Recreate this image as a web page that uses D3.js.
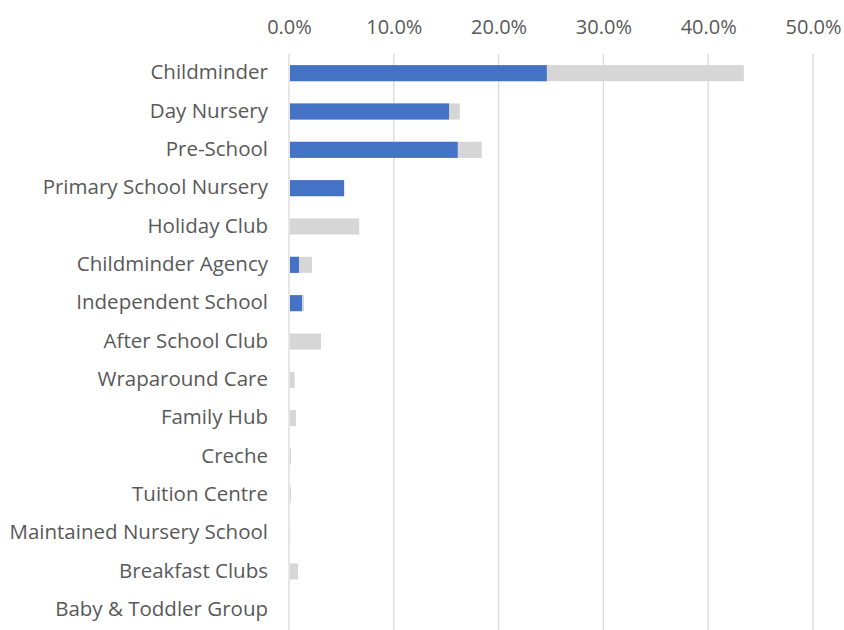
<!DOCTYPE html>
<html>
<head>
<meta charset="utf-8">
<script src="https://cdn.jsdelivr.net/npm/d3@7"></script>
<style>
  body { margin: 0; background: #fff; }
  svg text { font-family: "Open Sans", "Liberation Sans", sans-serif; fill: #595959; }
</style>
</head>
<body>
<script>
var categories = ['Childminder', 'Day Nursery', 'Pre-School', 'Primary School Nursery', 'Holiday Club',
    'Childminder Agency', 'Independent School', 'After School Club', 'Wraparound Care', 'Family Hub',
    'Creche', 'Tuition Centre', 'Maintained Nursery School', 'Breakfast Clubs', 'Baby & Toddler Group'];
var totalValues = [43.4, 16.3, 18.4, 5.3, 6.7, 2.2, 1.43, 3.05, 0.54, 0.67, 0.19, 0.19, 0.1, 0.86, 0];
var blueValues = [24.6, 15.27, 16.1, 5.25, 0, 0.95, 1.24, 0, 0, 0, 0, 0, 0.1, 0, 0];
var ticks = [0, 10, 20, 30, 40, 50];

var width = 844, height = 630;
var margin = {top: 54, right: 31, bottom: 1, left: 289};

var svg = d3.select('body').append('svg').attr('width', width).attr('height', height);

var x = d3.scaleLinear().domain([0, 50]).range([margin.left, width - margin.right]);
var y = d3.scaleBand().domain(categories).range([margin.top, height - margin.bottom]).paddingInner(0.58).paddingOuter(0.29);

// gridlines
svg.append('g').selectAll('line').data(ticks).enter().append('line')
    .attr('x1', function(d){ return x(d); })
    .attr('x2', function(d){ return x(d); })
    .attr('y1', margin.top)
    .attr('y2', height)
    .attr('stroke', '#d9d9d9')
    .attr('stroke-width', 1.3);

// top axis labels
var xAxis = svg.append('g').attr('transform', 'translate(0,34)')
    .call(d3.axisTop(x).tickValues(ticks).tickSize(0).tickPadding(0).tickFormat(function(d){ return d.toFixed(1) + '%'; }));
xAxis.select('.domain').remove();
xAxis.selectAll('text').attr('font-size', 20).attr('font-family', null).attr('dy', '0em');

// grey bars
svg.append('g').selectAll('rect').data(categories).enter().append('rect')
    .attr('x', x(0) + 1)
    .attr('y', function(d){ return y(d); })
    .attr('width', function(d, i){ return Math.max(0, x(totalValues[i]) - x(0) - 1); })
    .attr('height', y.bandwidth())
    .attr('fill', '#d6d6d6');

// blue bars
svg.append('g').selectAll('rect').data(categories).enter().append('rect')
    .attr('x', x(0) + 1)
    .attr('y', function(d){ return y(d); })
    .attr('width', function(d, i){ return Math.max(0, x(blueValues[i]) - x(0) - 1); })
    .attr('height', y.bandwidth())
    .attr('fill', '#4472c4');

// category labels
var yAxis = svg.append('g').attr('transform', 'translate(' + (margin.left - 21) + ',0)')
    .call(d3.axisLeft(y).tickSize(0).tickPadding(0));
yAxis.select('.domain').remove();
yAxis.selectAll('text').attr('font-size', 20.5).attr('font-family', null).attr('dy', '0.3em');
</script>
</body>
</html>
